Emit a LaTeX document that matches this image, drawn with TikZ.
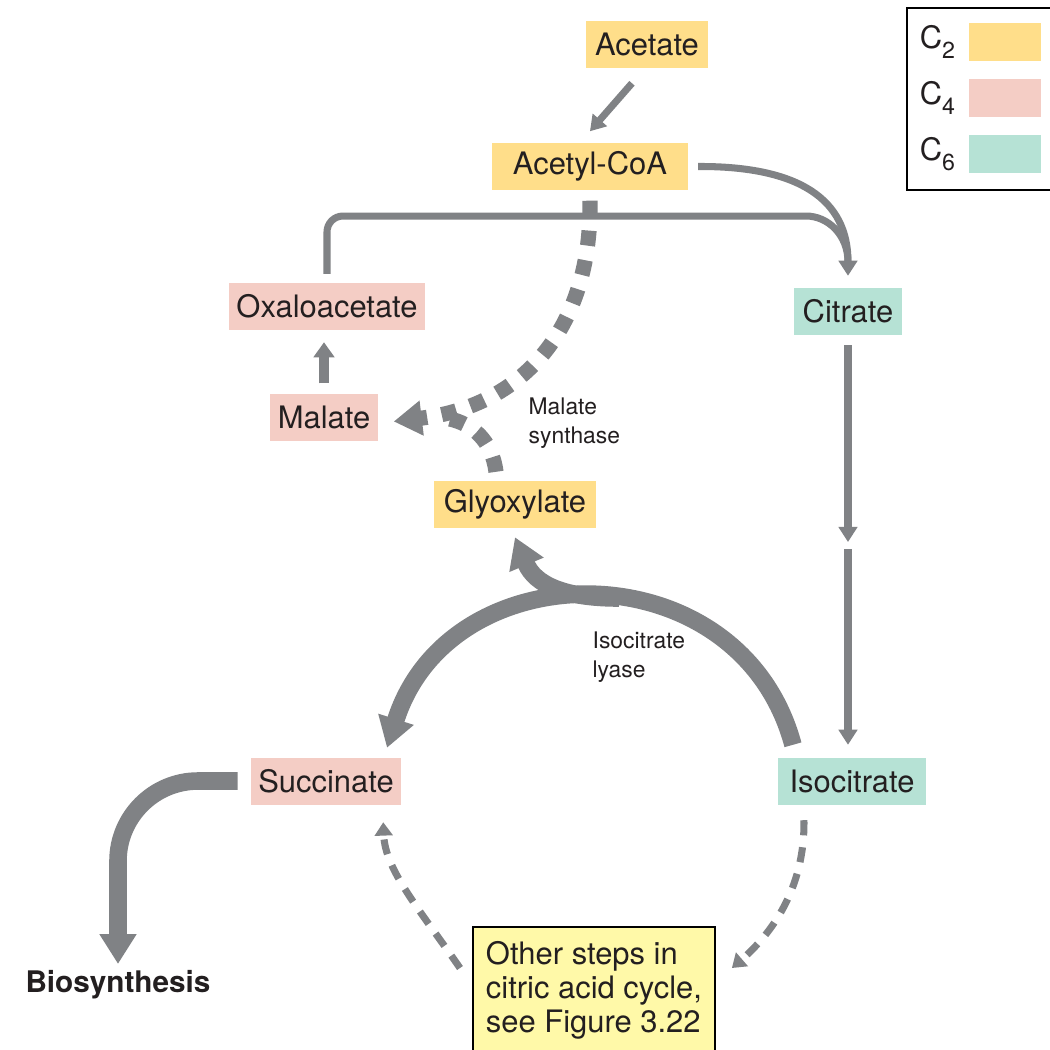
\documentclass[tikz,border=0pt]{standalone}
\usepackage{fontspec}
\setmainfont{TeX Gyre Heros}
\usetikzlibrary{positioning,arrows.meta}
\definecolor{ctwocol}{RGB}{255,222,138}
\definecolor{cfourcol}{RGB}{244,205,197}
\definecolor{csixcol}{RGB}{182,226,213}
\definecolor{notecol}{RGB}{255,249,168}
\definecolor{flowgray}{RGB}{128,130,133}
\definecolor{inkcol}{RGB}{35,31,32}
\newcommand{\mainsize}{\fontsize{8.8}{9.7}\selectfont}
\newcommand{\enzsize}{\fontsize{6.5}{8.2}\selectfont}
\newcommand{\carbons}[1]{C\raisebox{-0.6ex}{\fontsize{6.6}{7}\selectfont #1}}

\begin{document}
\begin{tikzpicture}[
    x=0.01cm, y=-0.01cm,
    metab/.style={minimum height=0.47cm, inner sep=0pt, font=\mainsize, text=inkcol},
    ctwo/.style={metab, fill=ctwocol},
    cfour/.style={metab, fill=cfourcol},
    csix/.style={metab, fill=csixcol},
    keylabel/.style={inner sep=0pt, font=\mainsize, text=inkcol},
    enzyme/.style={anchor=west, align=left, inner sep=0pt, font=\enzsize, text=inkcol},
    swatch/.style={minimum width=0.71cm, minimum height=0.38cm, inner sep=0pt},
    flow/.style={draw=flowgray, line width=2pt, -{Triangle[width=5.2pt,length=4.3pt]}},
    bigflow/.style={draw=flowgray, line width=5pt, -{Triangle[width=10pt,length=8.5pt]}},
    dotflow/.style={draw=flowgray, line width=4.3pt, dash pattern=on 4.3pt off 4.2pt},
    dashflow/.style={draw=flowgray, line width=2pt, dash pattern=on 4.3pt off 3.4pt, -{Triangle[width=5pt,length=3.8pt]}}]
\path[use as bounding box, fill=white] (0,0) rectangle (1050,1050);

% metabolites
\node[ctwo, minimum width=1.22cm] (acetate) at (647,44) {Acetate};
\node[ctwo, minimum width=1.95cm, below=0.74cm of acetate, xshift=-0.57cm] (acetyl) {Acetyl-CoA};
\node[cfour, minimum width=1.96cm] (oxalo) at (327,306) {Oxaloacetate};
\node[cfour, minimum width=1.08cm, below=0.63cm of oxalo, xshift=-0.03cm] (malate) {Malate};
\node[csix, minimum width=1.07cm] (citrate) at (848,311) {Citrate};
\node[ctwo, minimum width=1.62cm] (glyox) at (515,504) {Glyoxylate};
\node[cfour, minimum width=1.49cm] (succinate) at (326,781) {Succinate};
\node[csix, minimum width=1.47cm] (isocitrate) at (852,781) {Isocitrate};
\node[draw=black, line width=0.5pt, fill=notecol, anchor=north west, align=left, font=\mainsize, text=inkcol,
      minimum width=2.42cm, minimum height=1.26cm, inner xsep=0.12cm] (othersteps) at (472,926)
      {Other steps in\\citric acid cycle,\\see Figure 3.22};
\node[inner sep=0pt, font=\fontsize{8.45}{9.5}\selectfont\bfseries, text=inkcol] (biosyn) at (118,985) {Biosynthesis};

% enzymes
\node[enzyme] (synthlabel) at (528,423) {Malate\\synthase};
\node[enzyme] (lyaselabel) at (592,657) {Isocitrate\\lyase};

% legend
\draw[black, line width=0.6pt] (1060,8) -- (907,8) -- (907,190) -- (1060,190);
\node[swatch, fill=ctwocol] (keytwo) at (1005,42) {};
\node[swatch, fill=cfourcol] (keyfour) at (1005,98) {};
\node[swatch, fill=csixcol] (keysix) at (1005,154) {};
\node[keylabel, left=0.13cm of keytwo] (ctwolabel) {\carbons{2}};
\node[keylabel, left=0.13cm of keyfour] (cfourlabel) {\carbons{4}};
\node[keylabel, left=0.13cm of keysix] (csixlabel) {\carbons{6}};

% join points
\coordinate (citratejoin) at (848,262);
\coordinate (halfway) at (848,542);
\coordinate (restart) at (848,549);
\coordinate (synthjoin) at (450,419);
\coordinate (lyasefork) at (619,598);

% top of cycle
\draw[flow] ([xshift=-0.15cm, yshift=-0.15cm]acetate.south) -- ([yshift=0.11cm]acetyl.north);
\draw[draw=flowgray, line width=2pt, rounded corners=0.16cm] ([yshift=0.08cm]oxalo.north) |- (790,216)
    .. controls (828,216) and (848,235) .. (citratejoin);
\draw[flow] ([xshift=0.1cm]acetyl.east) .. controls (800,166) and (848,200) .. ([yshift=0.11cm]citrate.north);
\draw[flow, line width=2.4pt, shorten <=0.1cm] (citrate.south) -- (halfway);
\draw[flow, line width=2.4pt, shorten >=0.12cm] (restart) -- (restart |- isocitrate.north);
\draw[flow, line width=2.6pt, -{Triangle[width=5.8pt,length=4.3pt]}, shorten <=0.1cm, shorten >=0.12cm]
    (malate.north) -- (malate.north |- oxalo.south);

% malate synthase
\draw[dotflow, -{Triangle[width=9.5pt,length=8pt]}] ([yshift=-0.1cm]acetyl.south)
    .. controls (592,320) and (530,405) .. ([xshift=0.15cm, yshift=-0.04cm]malate.east);
\draw[dotflow] ([xshift=-0.19cm, yshift=0.08cm]glyox.north) .. controls (492,440) and (472,424) .. (synthjoin);

% isocitrate lyase
\draw[bigflow] ([xshift=-0.59cm, yshift=0.12cm]isocitrate.north)
    .. controls (740,548) and (450,548) .. ([xshift=0.61cm, yshift=0.09cm]succinate.north);
\draw[bigflow] (lyasefork) .. controls (565,598) and (535,585) .. ([yshift=-0.09cm]glyox.south);

% rest of the cycle
\draw[dashflow] ([xshift=-0.48cm, yshift=-0.15cm]isocitrate.south)
    .. controls (805,890) and (770,935) .. ([xshift=0.16cm, yshift=-0.42cm]othersteps.north east);
\draw[dashflow] ([xshift=-0.12cm, yshift=-0.42cm]othersteps.north west)
    .. controls (420,910) and (385,870) .. ([xshift=-0.18cm, yshift=-0.17cm]succinate.south east);
\draw[bigflow, rounded corners=0.8cm] ([xshift=-0.13cm]succinate.west) -| ([yshift=0.06cm]biosyn.north);
\end{tikzpicture}
\end{document}
